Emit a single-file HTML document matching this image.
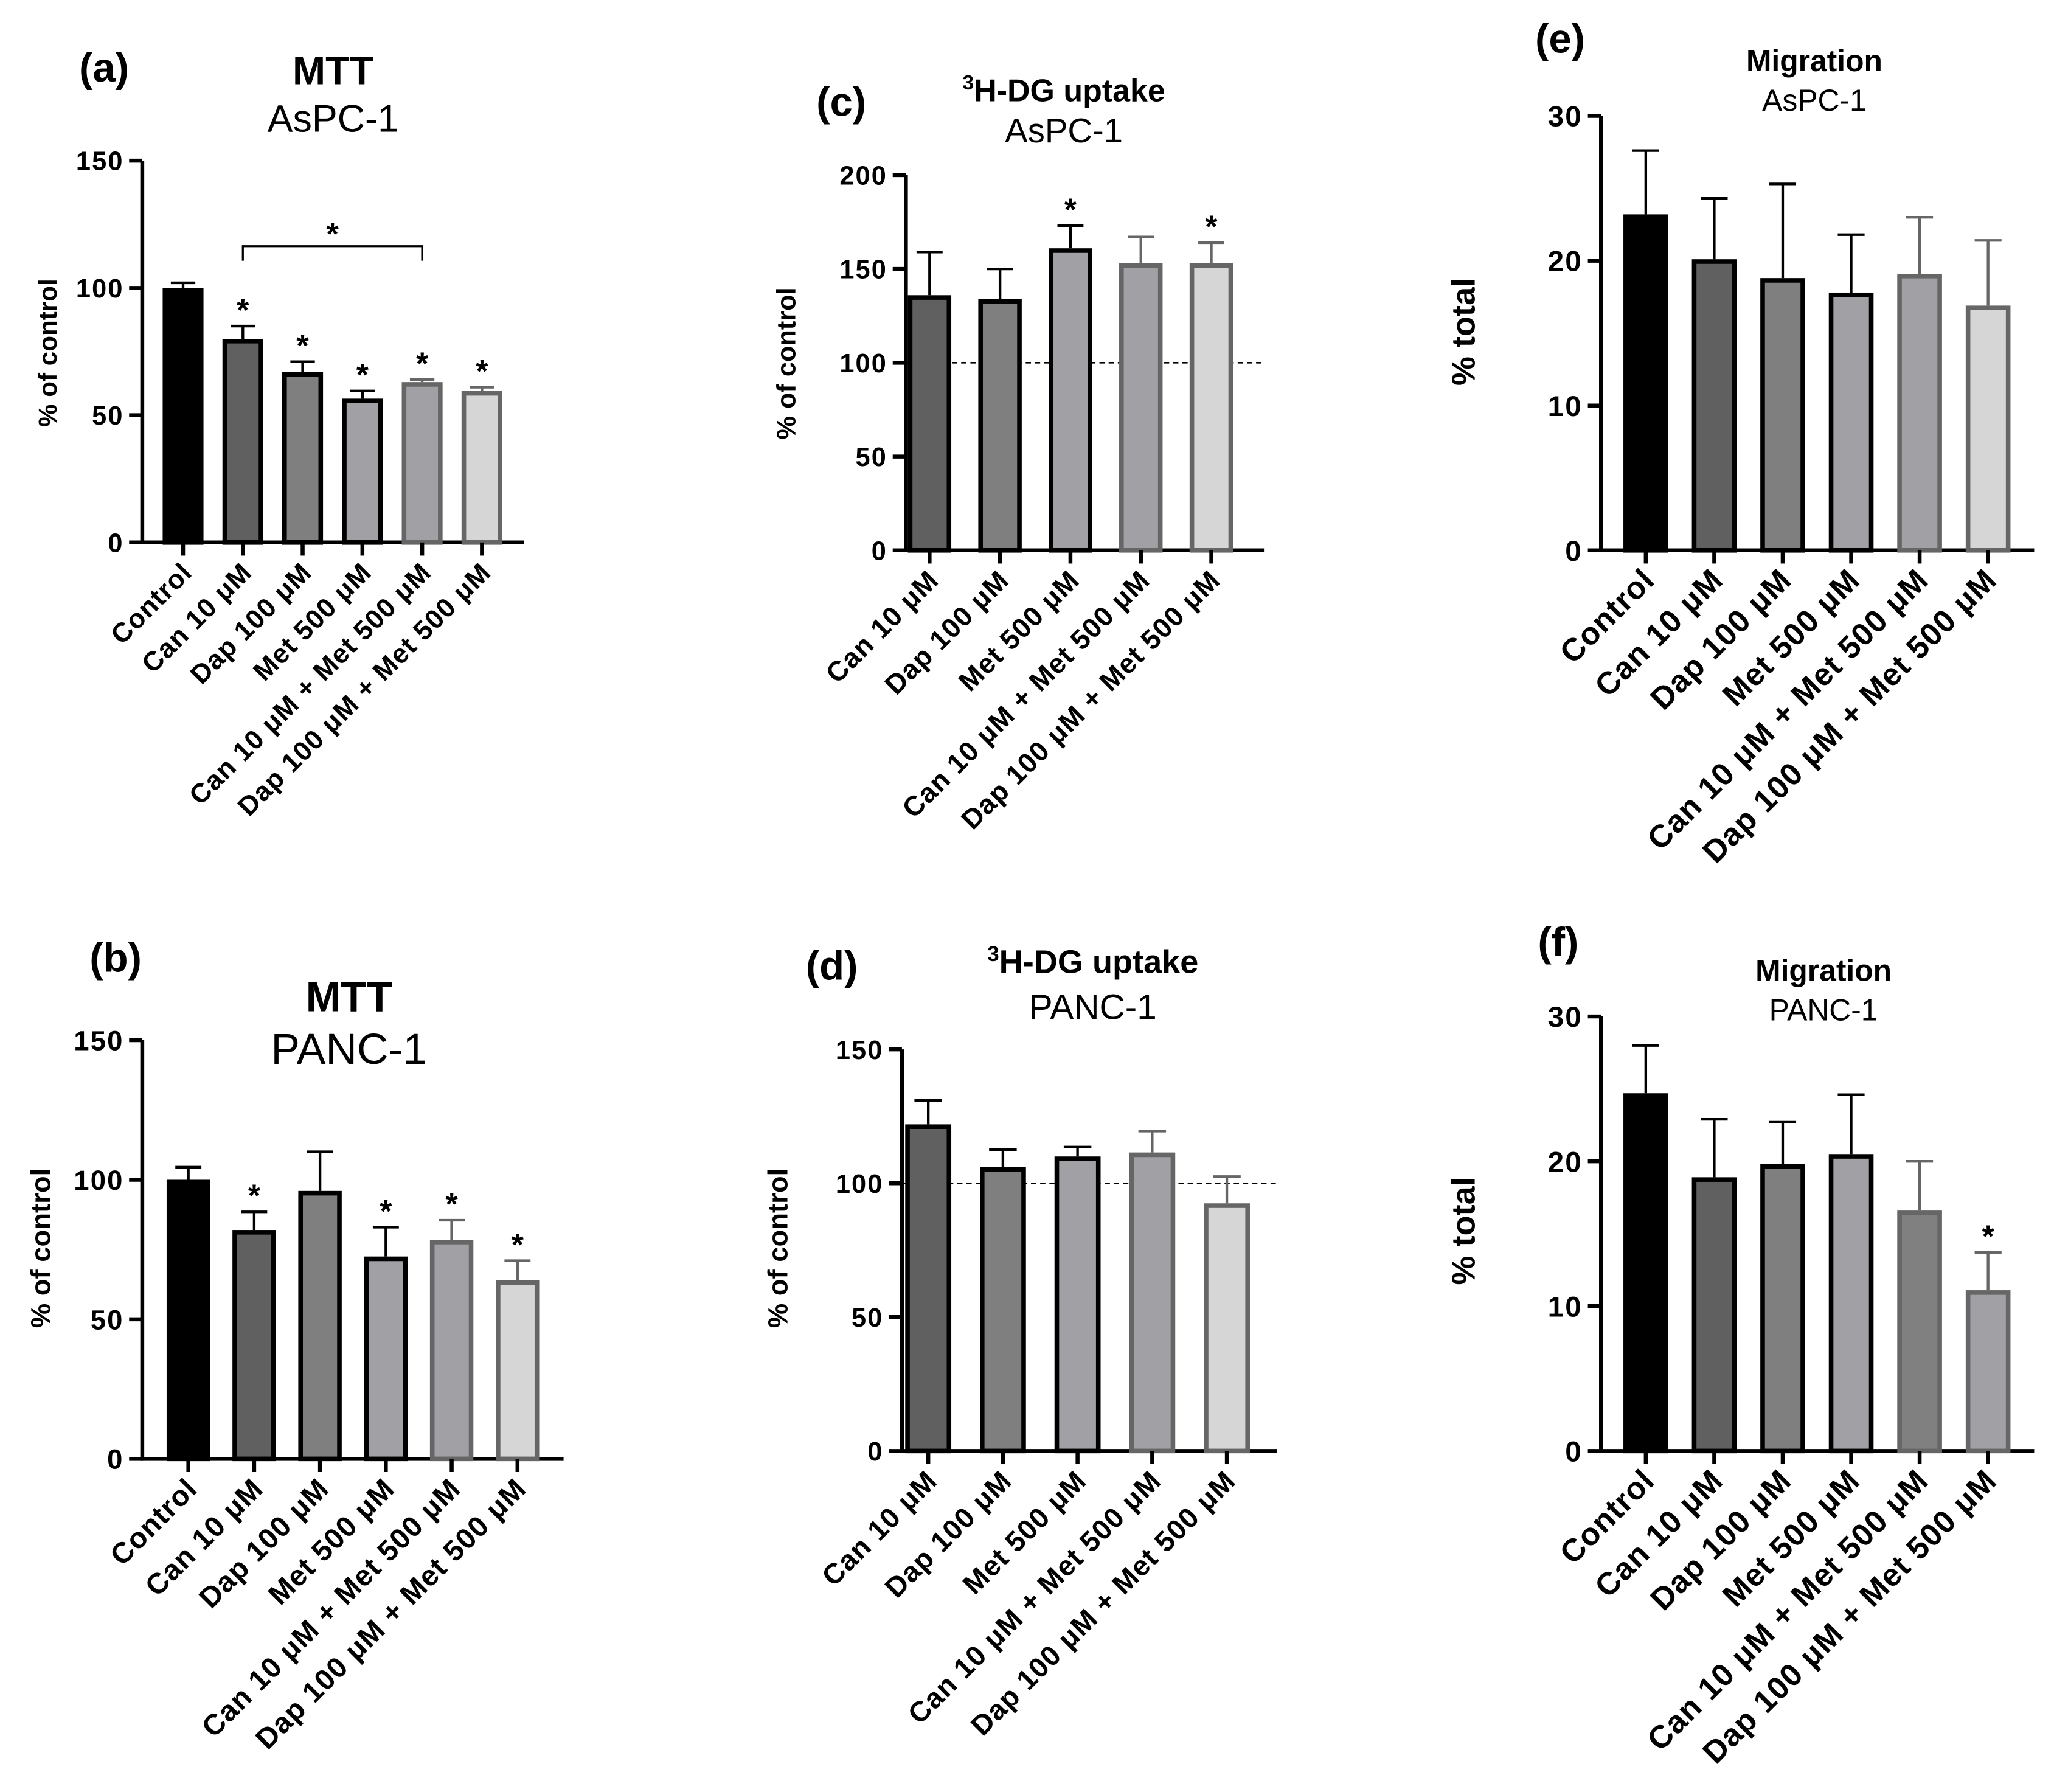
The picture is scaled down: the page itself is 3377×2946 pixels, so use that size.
<!DOCTYPE html>
<html><head><meta charset="utf-8"><style>body{margin:0;background:#fff}svg{display:block}text{font-family:"Liberation Sans",Arial,sans-serif}</style></head>
<body>
<svg id="fig" width="3377" height="2946" viewBox="0 0 1560 1361" xmlns="http://www.w3.org/2000/svg"></svg>
<script>
const catsFull=["Control","Can 10 μM","Dap 100 μM","Met 500 μM","Can 10 μM + Met 500 μM","Dap 100 μM + Met 500 μM"];
const catsNoCtrl=catsFull.slice(1);
const aVals=[100,80,67,56.5,63,59.5], aErr=[102,85,71,59.5,64,61], aStar=[0,1,1,1,1,1];
const bVals=[100,82,96,72.5,78.5,64], bErr=[104.5,88.5,110,83,85.5,71], bStar=[0,1,0,1,1,1];
const cVals=[136,134,161,153,153], cErr=[159,150,173,167,164], cStar=[0,0,1,0,1];
const dVals=[122,106,110,111.5,92.5], dErr=[131,112.5,113.5,119.5,102.5], dStar=[0,0,0,0,0];
const eVals=[23.2,20.1,18.8,17.8,19.1,16.9], eErr=[27.6,24.3,25.3,21.8,23.0,21.4], eStar=[0,0,0,0,0,0];
const fVals=[24.7,18.9,19.8,20.5,16.6,11.1], fErr=[28,22.9,22.7,24.6,20,13.7], fStar=[0,0,0,0,0,1];
const ticksA=[0,50,100,150], ticksC=[0,50,100,150,200], ticksE=[0,10,20,30];

const NS="http://www.w3.org/2000/svg", svg=document.getElementById('fig');
function mk(tag,attrs,parent,txt){const e=document.createElementNS(NS,tag);for(const k in attrs)e.setAttribute(k,attrs[k]);if(txt!==undefined)e.textContent=txt;(parent||svg).appendChild(e);return e;}
const styleFull=[{f:"#000",s:"#000",eb:"#000"},{f:"#606060",s:"#000",eb:"#000"},{f:"#7f7f7f",s:"#000",eb:"#000"},{f:"#a0a0a5",s:"#000",eb:"#000"},{f:"#a0a0a5",s:"#666",eb:"#666"},{f:"#d6d6d6",s:"#666",eb:"#666"}];
function panel(o){
  const g=mk('g',{});
  const ys=v=>o.y0-v/o.max*(o.y0-o.yTop);
  const xs=i=>o.c0+o.step*i;
  const ya=mk('line',{x1:o.x0,y1:o.yTop,x2:o.x0,y2:o.y0+1.5,stroke:"#000","stroke-width":3},g);
  const xa=mk('line',{x1:o.x0-1.5,y1:o.y0,x2:o.x1,y2:o.y0,stroke:"#000","stroke-width":3},g);
  o.ticks.forEach(t=>{const y=ys(t);mk('line',{x1:o.x0-10,y1:y,x2:o.x0,y2:y,stroke:"#000","stroke-width":3},g);
    const tl=mk('text',{x:o.x0-14,y:y+o.tfs*0.36,"text-anchor":"end","font-size":o.tfs,"font-weight":"bold","letter-spacing":1},g,t);});
  if(o.dash!==undefined){const dl=mk('line',{x1:o.x0,y1:ys(o.dash),x2:o.x1,y2:ys(o.dash),stroke:"#000","stroke-width":1.2,"stroke-dasharray":"4,3"},g);}
  o.vals.forEach((v,i)=>{const st=o.styles[i],cx=xs(i),w=o.bw;
    const eb=mk('path',{d:`M${cx} ${ys(v)} V${ys(o.err[i])} M${cx-w*0.3} ${ys(o.err[i])} H${cx+w*0.3}`,stroke:st.eb,"stroke-width":2,fill:"none"},g);
    const r=mk('rect',{x:cx-w/2+1.75,y:ys(v)+1.75,width:w-3.5,height:o.y0-ys(v)-1.75,fill:st.f,stroke:st.s,"stroke-width":3.5},g);
    mk('line',{x1:cx,y1:o.y0,x2:cx,y2:o.y0+10,stroke:"#000","stroke-width":3},g);
    if(o.star[i]){const s=mk('text',{x:cx,y:ys(o.err[i])-4,"text-anchor":"middle","font-size":24,"font-weight":"bold"},g,"*");}
    const tx=cx+8,ty=o.y0+24;
    const xl=mk('text',{x:tx,y:ty,"text-anchor":"end","font-size":o.xfs,"font-weight":"bold","letter-spacing":0.6,transform:`rotate(-45 ${tx} ${ty})`},g,o.cats[i]);
  });
  const yl=mk('text',{x:o.ylx,y:o.yly,"text-anchor":"middle","font-size":o.ylfs,"font-weight":"bold",transform:`rotate(-90 ${o.ylx} ${o.yly})`},g,o.ylabel);
  const pl=mk('text',{x:o.lab[0],y:o.lab[1],"font-size":31,"font-weight":"bold"},g,o.label);
  const t1=mk('text',{x:o.tx,y:o.t1y,"text-anchor":"middle","font-size":o.t1fs,"font-weight":"bold"},g);
  if(o.sup){mk('tspan',{"font-size":o.t1fs*0.65,dy:-9},t1,"3");mk('tspan',{dy:9},t1,o.title);}else t1.textContent=o.title;
  const t2=mk('text',{x:o.tx,y:o.t2y,"text-anchor":"middle","font-size":o.t2fs},g,o.sub);
  return {g,xs,ys};
}
const pa=panel({name:'panel-a',vals:aVals,err:aErr,star:aStar,cats:catsFull,styles:styleFull,x0:108,x1:398,c0:139,step:45.4,yTop:122,y0:412,max:150,ticks:ticksA,bw:31,tfs:20,xfs:20.5,ylabel:"% of control",ylx:43,yly:268,ylfs:19.5,label:"(a)",lab:[60,62],title:"MTT",t1fs:30,tx:253,t1y:64,sub:"AsPC-1",t2y:100,t2fs:29});
const br=mk('path',{d:`M${pa.xs(1)} 198 V187 H${pa.xs(4)} V198`,stroke:"#000","stroke-width":1.5,fill:"none"},pa.g);
mk('text',{x:(pa.xs(1)+pa.xs(4))/2,y:186,"text-anchor":"middle","font-size":24,"font-weight":"bold"},pa.g,"*");
panel({name:'panel-b',vals:bVals,err:bErr,star:bStar,cats:catsFull,styles:styleFull,x0:108,x1:428,c0:143,step:50,yTop:790,y0:1108,max:150,ticks:ticksA,bw:33,tfs:21,xfs:22,ylabel:"% of control",ylx:38,yly:948,ylfs:21,label:"(b)",lab:[68,738],title:"MTT",t1fs:32,tx:265,t1y:768,sub:"PANC-1",t2y:808,t2fs:33});
const s5=styleFull.slice(1);
panel({name:'panel-c',vals:cVals,err:cErr,star:cStar,cats:catsNoCtrl,styles:s5,dash:100,x0:688,x1:960,c0:706,step:53.5,yTop:133,y0:418,max:200,ticks:ticksC,bw:33,tfs:20,xfs:21,ylabel:"% of control",ylx:604,yly:276,ylfs:20,label:"(c)",lab:[620,88],title:"H-DG uptake",sup:true,t1fs:24,tx:808,t1y:77,sub:"AsPC-1",t2y:108,t2fs:26});
panel({name:'panel-d',vals:dVals,err:dErr,star:dStar,cats:catsNoCtrl,styles:s5,dash:100,x0:685,x1:970,c0:705,step:56.7,yTop:797,y0:1102,max:150,ticks:ticksA,bw:35,tfs:20,xfs:21.5,ylabel:"% of control",ylx:598,yly:948,ylfs:21,label:"(d)",lab:[612,744],title:"H-DG uptake",sup:true,t1fs:25,tx:830,t1y:739,sub:"PANC-1",t2y:774,t2fs:27});
panel({name:'panel-e',vals:eVals,err:eErr,star:eStar,cats:catsFull,styles:styleFull,x0:1216,x1:1545,c0:1250,step:52,yTop:88,y0:418,max:30,ticks:ticksE,bw:34,tfs:22,xfs:24,ylabel:"% total",ylx:1120,yly:252,ylfs:25,label:"(e)",lab:[1166,40],title:"Migration",t1fs:23,tx:1378,t1y:54,sub:"AsPC-1",t2y:84,t2fs:23});
panel({name:'panel-f',vals:fVals,err:fErr,star:fStar,cats:catsFull,styles:[styleFull[0],styleFull[1],styleFull[2],styleFull[3],{f:"#808080",s:"#666",eb:"#666"},{f:"#a0a0a5",s:"#666",eb:"#666"}],x0:1216,x1:1545,c0:1250,step:52,yTop:772,y0:1102,max:30,ticks:ticksE,bw:34,tfs:22,xfs:24,ylabel:"% total",ylx:1120,yly:935,ylfs:25,label:"(f)",lab:[1168,726],title:"Migration",t1fs:23,tx:1385,t1y:745,sub:"PANC-1",t2y:775,t2fs:23});
</script>
</body></html>
